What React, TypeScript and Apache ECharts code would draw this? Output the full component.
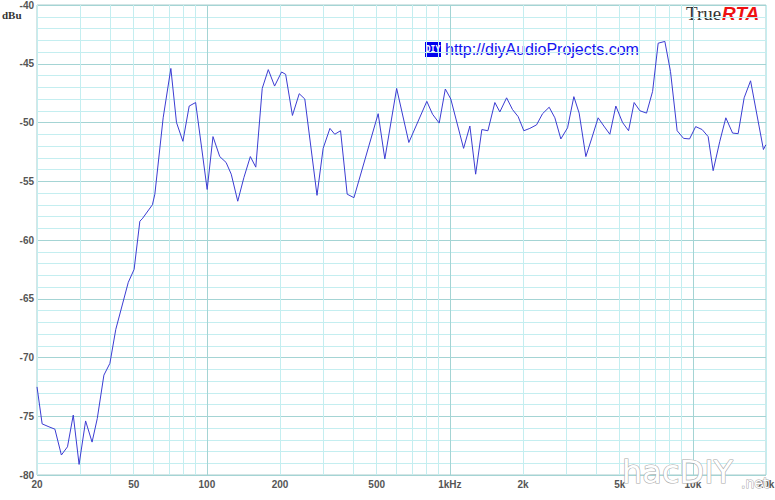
import React, { useEffect, useRef } from "react";
import * as echarts from "echarts";

// Frequency response (Hz) and level (dBu)
const freqs = [
  20, 21, 22.4, 23.7, 25.2, 26.7, 28.2, 29.8, 31.7, 33.7, 35.4, 37.7, 39.9, 42.2, 47.5, 50.2,
  53.0, 54.2, 59.7, 61.1, 66.1, 71.1, 75.0, 79.7, 84.6, 89.9, 100.3, 106, 113, 120, 126, 134,
  142, 151, 159, 169, 179, 190, 203, 211, 225, 240, 253, 284, 301, 321, 336, 355, 378, 403,
  507, 540, 604, 678, 804, 849, 904, 958, 1009, 1139, 1209, 1277, 1354, 1434, 1532, 1606,
  1712, 1811, 1910, 2016, 2134, 2274, 2407, 2563, 2705, 2863, 3051, 3238, 3405, 3628, 3829,
  4076, 4302, 4554, 4820, 5137, 5438, 5734, 6053, 6448, 6829, 7199, 7670, 8090, 8617, 9156,
  9691, 10270, 10920, 11560, 12120, 12910, 13670, 14570, 15360, 16260, 17280, 19520, 19970,
];
const levels = [
  -72.5, -75.65, -75.9, -76.1, -78.3, -77.6, -74.9, -79.1, -75.4, -77.2, -75.2, -71.5, -70.5, -67.6, -63.6, -62.5,
  -58.4, -58.2, -57.0, -56.1, -49.6, -45.4, -50.0, -51.6, -48.6, -48.3, -55.7, -51.2, -52.9, -53.4, -54.4, -56.7,
  -54.7, -52.9, -53.8, -47.1, -45.5, -46.9, -45.7, -45.9, -49.4, -47.55, -48.0, -56.2, -52.2, -50.5, -51.0, -50.7, -56.1, -56.4,
  -49.25, -53.1, -47.1, -51.7, -48.2, -49.3, -50.05, -47.15, -48.0, -52.2, -50.3, -54.4, -50.6, -50.7, -48.3, -49.1,
  -47.9, -48.9, -49.5, -50.7, -50.5, -50.2, -49.25, -48.7, -49.6, -51.4, -50.45, -47.8, -49.2, -52.9, -51.4,
  -49.6, -50.3, -51.0, -48.6, -50.0, -50.7, -48.3, -49.0, -49.2, -47.35, -43.25, -43.1, -45.65, -50.7, -51.35,
  -51.4, -50.35, -50.6, -51.2, -54.1, -51.6, -49.6, -50.9, -50.95, -47.9, -46.45, -52.3, -51.9,
];

// Vertical grid frequencies and the labelled ones
const gridFreqs = [
  20, 30, 40, 50, 60, 70, 80, 90, 100, 200, 300, 400, 500, 600, 700, 800, 900,
  1000, 2000, 3000, 4000, 5000, 6000, 7000, 8000, 9000, 10000, 20000,
];
const majorFreqs = [100, 1000, 10000];
const xTickValues = [20, 50, 100, 200, 500, 1000, 2000, 5000, 10000, 20000];
const xTickLabels = ["20", "50", "100", "200", "500", "1kHz", "2k", "5k", "10k", "20k"];

const yMin = -80;
const yMax = -40;
const yStep = 5;

export default function App() {
  const ref = useRef<HTMLDivElement>(null);

  useEffect(() => {
    if (!ref.current) return;
    const chart = echarts.init(ref.current, null, { renderer: "svg" });

    const minorColor = "#c4eef0";
    const majorColor = "#a4d4d4";
    const labelFont = {
      fontSize: 10,
      fontWeight: "bold" as const,
      color: "#555555",
      fontFamily: "Liberation Sans, Arial, sans-serif",
    };

    const vLines = gridFreqs.map((f) => {
      const idx = xTickValues.indexOf(f);
      return {
        xAxis: f,
        lineStyle: {
          color: majorFreqs.includes(f) ? majorColor : minorColor,
          width: 1,
          type: "solid",
        },
        label: {
          show: idx >= 0,
          formatter: idx >= 0 ? xTickLabels[idx] : "",
          position: "start",
          distance: 4,
          ...labelFont,
        },
      };
    });

    const option: any = {
      animation: false,
      backgroundColor: "#ffffff",
      grid: {
        left: 37,
        right: 9,
        top: 3,
        bottom: 25,
        show: true,
        borderColor: "#a8cccc",
        borderWidth: 1,
      },
      xAxis: {
        type: "log",
        logBase: 10,
        min: 20,
        max: 20000,
        axisLine: { show: false },
        axisTick: { show: false },
        axisLabel: { show: false },
        splitLine: { show: false },
      },
      yAxis: {
        type: "value",
        min: yMin,
        max: yMax,
        interval: yStep,
        axisLine: { show: false },
        axisTick: { show: false },
        axisLabel: { margin: 3, ...labelFont },
        splitLine: { show: true, lineStyle: { color: majorColor, width: 1 } },
        minorTick: { show: false, splitNumber: 5 },
        minorSplitLine: { show: true, lineStyle: { color: minorColor, width: 1 } },
      },
      series: [
        {
          type: "line",
          data: [],
          silent: true,
          z: 1,
          markLine: {
            silent: true,
            z: 1,
            symbol: ["none", "none"],
            animation: false,
            data: vLines,
          },
        },
        {
          type: "line",
          z: 3,
          data: freqs.map((f, i) => [f, levels[i]]),
          showSymbol: false,
          symbol: "none",
          lineStyle: { color: "#3c3cd2", width: 1 },
        },
      ],
      graphic: [
        {
          type: "text",
          left: 2,
          top: 9,
          style: {
            text: "dBu",
            font: "bold 11px 'Liberation Serif', serif",
            fill: "#333333",
          },
        },
        {
          type: "text",
          x: 686,
          y: 4,
          style: {
            text: "True",
            font: "19px 'Liberation Serif', serif",
            fill: "#333333",
          },
        },
        {
          type: "text",
          x: 722,
          y: 4,
          style: {
            text: "RTA",
            font: "italic bold 19px 'Liberation Sans', Arial, sans-serif",
            fill: "#ee1111",
          },
        },
        {
          type: "rect",
          shape: { x: 425, y: 42, width: 16, height: 15 },
          style: { fill: "#0000ee" },
        },
        {
          type: "text",
          x: 433,
          y: 49.5,
          style: {
            text: "DIY",
            font: "bold 8px 'DejaVu Sans Mono', monospace",
            fill: "#ffffff",
            align: "center",
            verticalAlign: "middle",
          },
        },
        {
          type: "text",
          x: 445,
          y: 49.5,
          style: {
            text: "http://diyAudioProjects.com",
            font: "16px 'Liberation Sans', Arial, sans-serif",
            fill: "#1414f0",
            verticalAlign: "middle",
          },
        },
        {
          type: "text",
          x: 622,
          y: 456,
          z: 10,
          style: {
            text: "hacDIY",
            font: "32px 'DejaVu Sans', sans-serif",
            fill: "#ffffff",
            stroke: "#a8a8a8",
            lineWidth: 1.2,
            shadowColor: "rgba(0,0,0,0.35)",
            shadowBlur: 4,
            shadowOffsetX: 2,
            shadowOffsetY: 2,
          },
        },
        {
          type: "text",
          x: 741,
          y: 476,
          z: 10,
          style: {
            text: ".net",
            font: "14px 'DejaVu Sans', sans-serif",
            fill: "#ffffff",
            stroke: "#a8a8a8",
            lineWidth: 1,
          },
        },
      ],
    };

    chart.setOption(option);
    return () => chart.dispose();
  }, []);

  return (
    <div
      ref={ref}
      style={{ position: "absolute", left: 0, top: 0, width: 775, height: 500, background: "#fff" }}
    />
  );
}
